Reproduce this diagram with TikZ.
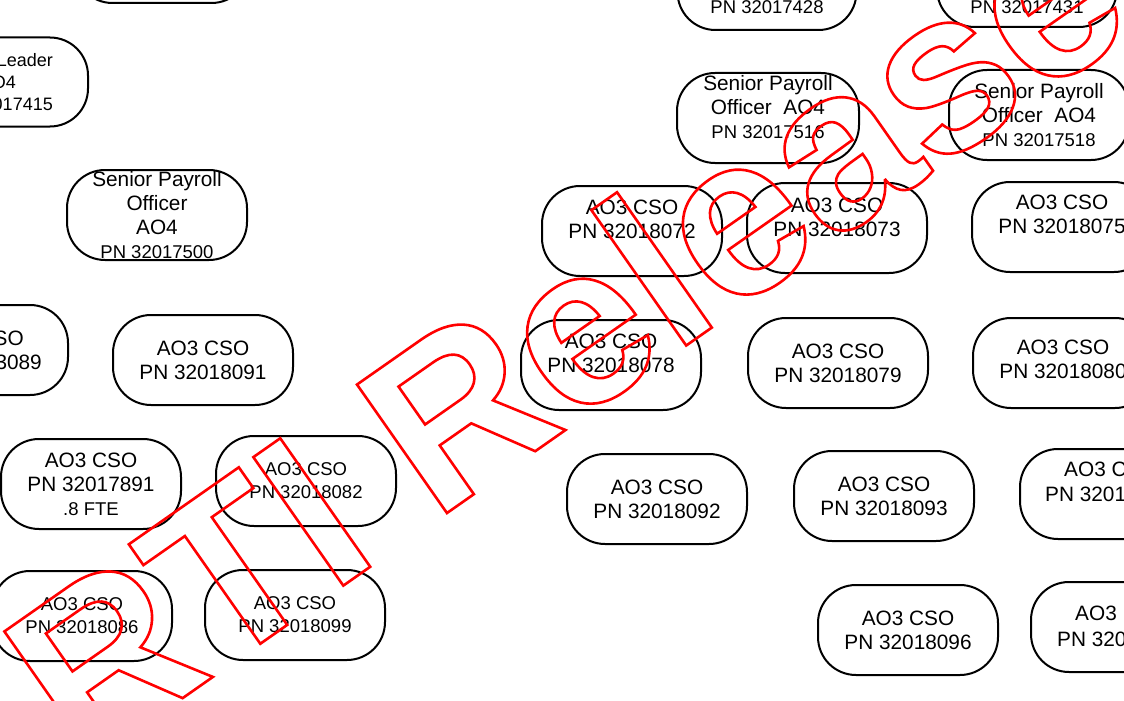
\documentclass[tikz,border=0pt]{standalone}
\usepackage{fontspec}
\setmainfont{Liberation Sans}

% contour text (stroke only)
\newcommand\hollowtext[1]{\special{pdf:literal direct 1 Tr 2.6 w}#1\special{pdf:literal direct 0 Tr}}
\newcommand\pnsize{\fontsize{18.5}{24}\selectfont}

\tikzset{
  posbox/.style={draw, line width=2pt, rounded corners=38pt,
    minimum width=180pt, minimum height=90pt, inner sep=0pt,
    align=center, font=\fontsize{20.8}{24}\selectfont},
  smallbox/.style={posbox, font=\fontsize{18.5}{23}\selectfont},
  cuttext/.style={inner sep=0pt, align=center, font=\fontsize{20.8}{24}\selectfont},
  stamp/.style={inner sep=0pt, text=red, font=\bfseries\fontsize{228}{228}\selectfont},
}

\begin{document}
\begin{tikzpicture}[x=1pt, y=-1pt]

% --- Cadre ---
\useasboundingbox (0,0) rectangle (1124,701);
\clip (0,0) rectangle (1124,701);

% --- Postes AO4 (rangée du haut) ---
\node[posbox, minimum width=175pt] (p000) at (162,-42) {};

\node[posbox, minimum height=89pt] (p415) at (-2,82) {};
\node[cuttext, anchor=east, font=\fontsize{18}{22}\selectfont] (t415a) at (53,60) {Leader};
\node[cuttext, anchor=east, font=\fontsize{18}{22}\selectfont] (t415b) at (16,82) {O4};
\node[cuttext, anchor=east, font=\fontsize{18}{22}\selectfont] (t415c) at (53,104) {017415};

\node[posbox] (p500) at (157,215) {Senior Payroll\\Officer\\AO4\\{\pnsize PN 32017500}};

\node[posbox, minimum width=179pt] (p428) at (767,-15) {};
\node[cuttext, font=\pnsize] (t428) at (767,7) {PN 32017428};

\node[posbox] (p431) at (1027,-18) {};
\node[cuttext, font=\pnsize] (t431) at (1027,7) {PN 32017431};

\node[posbox, minimum width=182pt] (p516) at (768,118) {};
\node[cuttext] (t516) at (768,107) {Senior Payroll\\Officer~~AO4\\{\pnsize PN 32017516}};

\node[posbox] (p518) at (1039,115) {Senior Payroll\\Officer~~AO4\\{\pnsize PN 32017518}};

% --- Postes AO3 CSO ---
\node[posbox] (c072) at (632,231) {};
\node[cuttext] (t072) at (632,219) {AO3 CSO\\PN 32018072};
\node[posbox] (c073) at (837,228) {};
\node[cuttext] (t073) at (837,217) {AO3 CSO\\PN 32018073};
\node[posbox] (c075) at (1062,227) {};
\node[cuttext] (t075) at (1062,214) {AO3 CSO\\PN 32018075};

\node[posbox] (c089) at (-22,350) {};
\node[cuttext, anchor=east] (t089a) at (24,338) {SO};
\node[cuttext, anchor=east] (t089b) at (42,362) {3089};
\node[posbox] (c091) at (203,360) {AO3 CSO\\PN 32018091};
\node[posbox] (c078) at (611,365) {};
\node[cuttext] (t078) at (611,353.5) {AO3 CSO\\PN 32018078};
\node[posbox] (c079) at (838,363) {AO3 CSO\\PN 32018079};
\node[posbox] (c080) at (1063,363) {};
\node[cuttext] (t080) at (1063,359) {AO3 CSO\\PN 32018080};

\node[posbox] (c891) at (91,484) {AO3 CSO\\PN 32017891\\{\pnsize .8 FTE}};
\node[smallbox] (c082) at (306,481) {AO3 CSO\\PN 32018082};
\node[posbox] (c092) at (657,499) {AO3 CSO\\PN 32018092};
\node[posbox] (c093) at (884,496) {AO3 CSO\\PN 32018093};
\node[posbox] (c094) at (1110,494) {};
\node[cuttext, anchor=west] (t094a) at (1064,469) {AO3 CSO};
\node[cuttext, anchor=west] (t094b) at (1045,494) {PN 3201};

\node[smallbox] (c086) at (82,616) {AO3 CSO\\PN 32018086};
\node[smallbox] (c099) at (295,615) {AO3 CSO\\PN 32018099};
\node[posbox] (c096) at (908,630) {AO3 CSO\\PN 32018096};
\node[posbox] (c097) at (1121,627) {};
\node[cuttext, anchor=west] (t097a) at (1075,613) {AO3};
\node[cuttext, anchor=west] (t097b) at (1057,639) {PN 320};

% --- Tampon ---
\node[stamp, anchor=base west, rotate=35] (rti) at (81.7,768.8) {\hollowtext{RTI Release}};

\end{tikzpicture}
\end{document}
